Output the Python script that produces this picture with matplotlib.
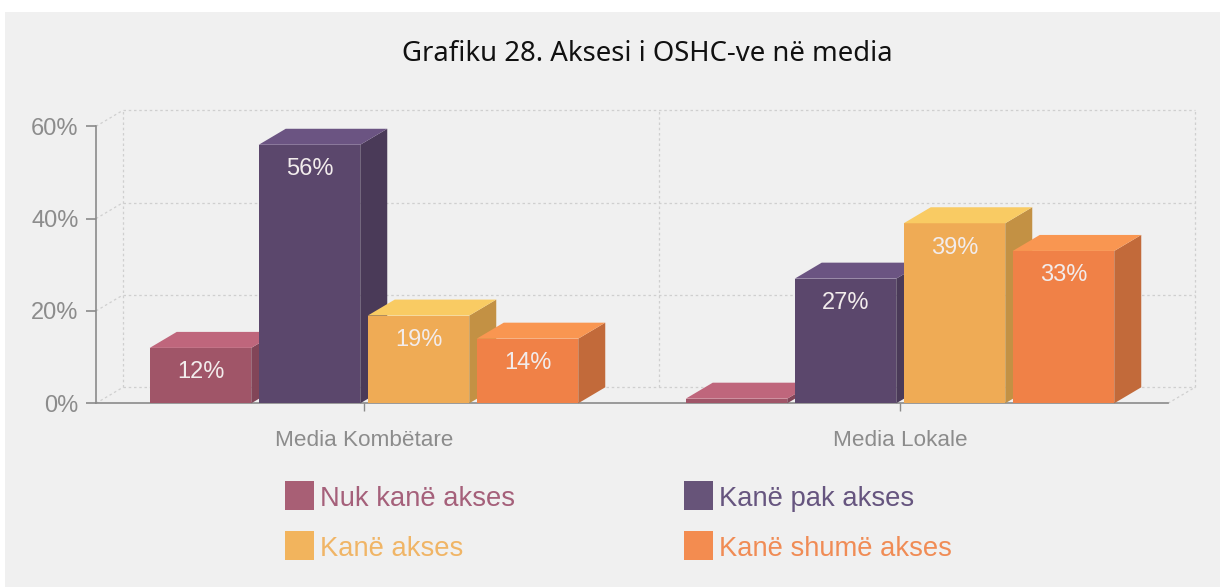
import matplotlib
matplotlib.use("Agg")
import matplotlib.pyplot as plt
from matplotlib.patches import FancyBboxPatch, Polygon, Rectangle

categories = ["Media Kombëtare", "Media Lokale"]
series_names = ["Nuk kanë akses", "Kanë pak akses", "Kanë akses", "Kanë shumë akses"]
nuk_kane = [12, 0]
pak_akses = [56, 27]
kane_akses = [19, 39]
shume_akses = [14, 33]
series_values = [nuk_kane, pak_akses, kane_akses, shume_akses]
y_ticks = [0, 20, 40, 60]
y_labels = ["0%", "20%", "40%", "60%"]

front = ["#a05568", "#5b476c", "#efab55", "#f08147"]
top = ["#bf667c", "#6b5482", "#f9cb63", "#f99651"]
side = ["#824558", "#4a3a58", "#c39144", "#c26a3a"]
legend_cols = ["#a85f75", "#675479", "#f2b45d", "#f38c50"]
label_cols = ["#a5607a", "#66557f", "#f0b566", "#f08c55"]

W, H = 1225, 587
BG = "#f0f0f0"
GRID = "#cfcfcf"
AXIS = "#8a8a8a"
TXT = "#8c8c8c"
DASH = (0, (2, 2.2))

plt.rcParams["font.family"] = ["Liberation Sans", "DejaVu Sans"]

fig = plt.figure(figsize=(W / 100, H / 100), dpi=100, facecolor="white")
fig.add_artist(Rectangle((5 / W, 0), 1215 / W, 1 - 12 / H, transform=fig.transFigure,
                         facecolor=BG, edgecolor="none", zorder=-1))

ax = fig.add_axes([96 / W, (H - 403.3) / H, 1072 / W, 277 / H])
ax.patch.set_visible(False)
ax.set_xlim(-0.5, 1.5)
ax.set_ylim(0, 60)

# 3d depth in data units
dx = 27 / 536
dy = 60 * 16 / 277
bar_w = 101.5 / 536
pitch = 109 / 536

# back wall grid
for t in y_ticks:
    ax.plot([-0.5 + dx, 1.5 + dx], [t + dy, t + dy], color=GRID, lw=0.9, ls=DASH,
            clip_on=False, zorder=1)
    ax.plot([-0.5, -0.5 + dx], [t, t + dy], color=GRID, lw=0.9, ls=DASH,
            clip_on=False, zorder=1)
ax.plot([1.5, 1.5 + dx], [0, dy], color=GRID, lw=0.9, ls=DASH, clip_on=False, zorder=1)
for xv in [-0.5, 0.5, 1.5]:
    ax.plot([xv + dx, xv + dx], [dy, 60 + dy], color=GRID, lw=0.9, ls=DASH,
            clip_on=False, zorder=1)

for s, vals in enumerate(series_values):
    for c, v in enumerate(vals):
        x0 = c + (s - 1.5) * pitch - bar_w / 2
        x1 = x0 + bar_w
        h = max(v, 1)  # zero bar still shows as a thin slab
        z = 3 + s
        ax.bar(x0, h, width=bar_w, align="edge", color=front[s], zorder=z, clip_on=False)
        ax.add_patch(Polygon([(x1, 0), (x1 + dx, dy), (x1 + dx, h + dy), (x1, h)],
                             facecolor=side[s], edgecolor="none", zorder=z, clip_on=False))
        ax.add_patch(Polygon([(x0, h), (x0 + dx, h + dy), (x1 + dx, h + dy), (x1, h)],
                             facecolor=top[s], edgecolor="none", zorder=z, clip_on=False))
        if v > 0:
            ax.text((x0 + x1) / 2, v - 5.3, f"{v}%", color="#f2ecec", fontsize=17,
                    ha="center", va="center", zorder=z + 0.5)

ax.set_xticks([0, 1])
ax.set_xticklabels(categories, fontsize=16.2, color=TXT)
ax.set_yticks(y_ticks)
ax.set_yticklabels(y_labels, fontsize=17, color=TXT)
ax.tick_params(axis="x", length=6, width=1, color=AXIS, pad=13)
ax.tick_params(axis="y", length=7.5, width=1.2, color=AXIS, pad=5)
for name in ["top", "right"]:
    ax.spines[name].set_visible(False)
for name in ["left", "bottom"]:
    ax.spines[name].set_color(AXIS)
    ax.spines[name].set_linewidth(1.2)

fig.text(647.5 / W, 1 - 54 / H, "Grafiku 28. Aksesi i OSHC-ve në media", fontsize=19.8,
         family="Noto Sans", color="#111111", ha="center", va="center")

# legend
leg_x = [285, 684]
leg_y = [495.5, 545.5]
for i, name in enumerate(series_names):
    px = leg_x[i % 2]
    py = leg_y[i // 2]
    fig.add_artist(Rectangle((px / W, 1 - (py + 14.5) / H), 29 / W, 29 / H, transform=fig.transFigure,
                             facecolor=legend_cols[i], edgecolor="none"))
    fig.text((px + 35) / W, 1 - (py + 3.5) / H, name, fontsize=19.7, color=label_cols[i],
             ha="left", va="center")

fig.savefig("out.png", dpi=100, facecolor="white")
